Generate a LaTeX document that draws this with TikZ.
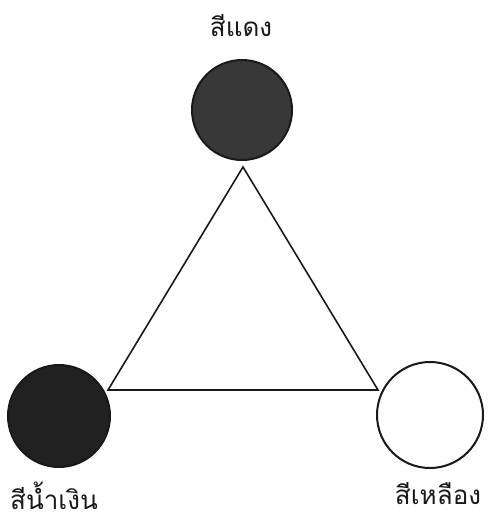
\documentclass[tikz,border=0pt]{standalone}
\usepackage{fontspec}
\newfontfamily\thaifont[Script=Thai]{Loma}
\usetikzlibrary{positioning}

\begin{document}
\begin{tikzpicture}[x=1pt,y=-1pt,font=\thaifont\fontsize{26}{30}\selectfont]
  \tikzset{colorball/.style={circle,draw,black!90,line width=2pt,inner sep=0pt,minimum size=100pt},
           colorname/.style={inner sep=0pt,text=black!90}}
  \useasboundingbox (0,0) rectangle (490,523);

  \node[colorball,fill=black!78] (red) at (242,110) {};
  \node[colorball,fill=black!87,minimum size=102pt] (blue) at (59,416) {};
  \node[colorball,fill=white,minimum size=106pt] (yellow) at (430,415) {};

  \node[colorname] (redname) at (241,26) {สีแดง};
  \node[colorname] (bluename) at (54,496) {สีน้ำเงิน};
  \node[colorname] (yellowname) at (438,494) {สีเหลือง};

  \coordinate (top) at (243,167);
  \coordinate (left) at (108,390);
  \coordinate (right) at (378,390);
  \draw[black!90,line width=1.6pt,line join=miter] (top) -- (left) -- (right) -- cycle;
\end{tikzpicture}
\end{document}
